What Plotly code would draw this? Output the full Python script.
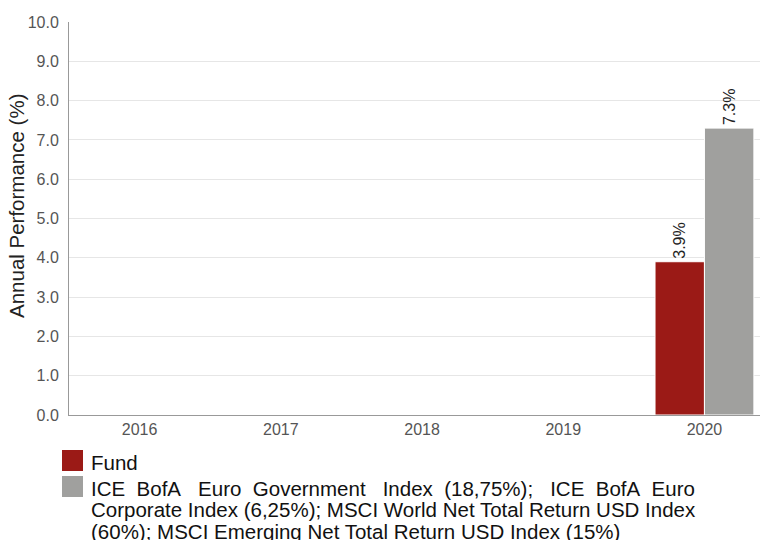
import plotly.graph_objects as go

years = ["2016", "2017", "2018", "2019", "2020"]
fund = [None, None, None, None, 3.9]
index_vals = [None, None, None, None, 7.3]
series_names = [
    "Fund",
    "ICE BofA Euro Government Index (18,75%); ICE BofA Euro Corporate Index (6,25%); MSCI World Net Total Return USD Index (60%); MSCI Emerging Net Total Return USD Index (15%)",
]
y_title = "Annual Performance (%)"
S2 = "&#160;&#160;"
S3 = "&#160;&#160;&#160;"
legend_lines = [
    ["Fund"],
    ["ICE" + S2 + "BofA" + S3 + "Euro" + S2 + "Government" + S3 + "Index" + S2 + "(18,75%);" + S3 + "ICE" + S2 + "BofA" + S2 + "Euro",
     "Corporate Index (6,25%); MSCI World Net Total Return USD Index",
     "(60%); MSCI Emerging Net Total Return USD Index (15%)"],
]
colors = ["#9b1a16", "#a0a09e"]

FONT = "Liberation Sans, Arial"

def lab(vals):
    return [("" if v is None else f"{v:.1f}%") for v in vals]

fig = go.Figure()
for vals, name, col in zip([fund, index_vals], series_names, colors):
    fig.add_trace(go.Bar(
        x=years, y=vals, name=name, marker=dict(color=col, line=dict(color="white", width=1)),
        text=lab(vals), textposition="outside", textangle=-90,
        textfont=dict(family=FONT, size=16, color="#222222"),
        cliponaxis=False, showlegend=False,
    ))

# page body has an 8px margin: figure coords = reference coords - 8
OFF = 8
W, H = 768 - OFF, 540 - OFF
L, T, B = 69 - OFF, 22 - OFF, 415 - OFF
PH = B - T
PW = W - L

def px(x):
    return (x - OFF - L) / PW

def py(y):
    return (B - (y - OFF)) / PH

shapes = []
annotations = []
# manual legend (reference pixel positions)
marker_tops = [450, 476]
text_centers = [[462], [488, 509, 531]]
for lines, col, top, cys in zip(legend_lines, colors, marker_tops, text_centers):
    shapes.append(dict(type="rect", xref="paper", yref="paper",
                       x0=px(62), x1=px(83), y0=py(top), y1=py(top + 21),
                       fillcolor=col, line=dict(width=0)))
    for t, cy in zip(lines, cys):
        annotations.append(dict(xref="paper", yref="paper", x=px(89), y=py(cy),
                                text=t, showarrow=False, xanchor="left", yanchor="middle",
                                font=dict(family=FONT, size=20.5, color="#111111")))

# y-axis title
annotations.append(dict(xref="paper", yref="paper", x=px(16), y=py(206), text=y_title,
                        showarrow=False, textangle=-90, xanchor="center", yanchor="middle",
                        font=dict(family=FONT, size=20.5, color="#222222")))

fig.update_layout(
    width=W, height=H,
    margin=dict(l=L, r=0, t=T, b=H - B),
    paper_bgcolor="white", plot_bgcolor="white",
    barmode="group", bargap=0.3, bargroupgap=0.0,
    font=dict(family=FONT, color="#555555"),
    shapes=shapes, annotations=annotations,
    xaxis=dict(showline=True, linecolor="#999999", linewidth=1, ticks="",
               range=[-0.5, 4.45], automargin=False,
               tickfont=dict(size=16, color="#555555"), showgrid=False),
    yaxis=dict(range=[0, 10], dtick=1, tickformat=".1f", showline=True, linecolor="#999999",
               gridcolor="#e6e6e6", zeroline=False, automargin=False,
               ticks="", ticklabelstandoff=6,
               tickfont=dict(size=16, color="#555555")),
)

fig.write_html("out.html")
